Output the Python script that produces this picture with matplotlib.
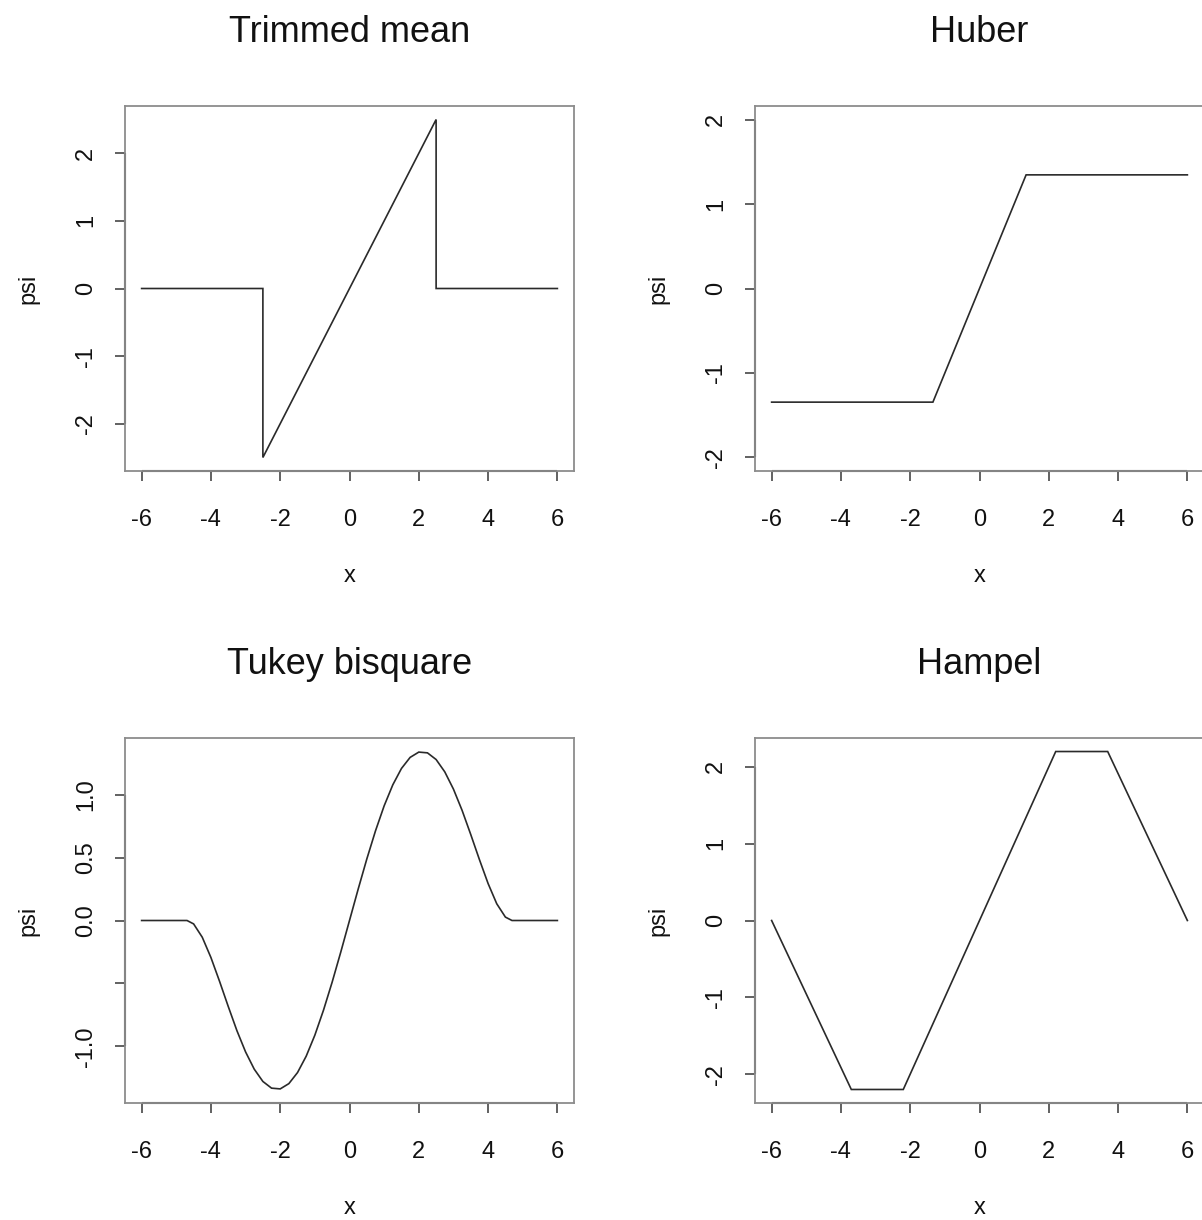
import matplotlib
matplotlib.use("Agg")
import matplotlib.pyplot as plt
import matplotlib.transforms as mtransforms

plt.rcParams['font.family'] = ['Liberation Sans', 'DejaVu Sans']

W, H = 1202, 1220

# psi curves, values read per panel
trim_x = [-6, -2.5, -2.5, 2.5, 2.5, 6]
trim_y = [0, 0, -2.5, 2.5, 0, 0]

huber_x = [-6, -1.345, 1.345, 6]
huber_y = [-1.345, -1.345, 1.345, 1.345]

tukey_x = [-6, -4.69, -4.5, -4.25, -4.0, -3.75, -3.5, -3.25, -3.0, -2.75, -2.5,
           -2.25, -2.0, -1.75, -1.5, -1.25, -1.0, -0.75, -0.5, -0.25, 0.0,
           0.25, 0.5, 0.75, 1.0, 1.25, 1.5, 1.75, 2.0, 2.25, 2.5, 2.75, 3.0,
           3.25, 3.5, 3.75, 4.0, 4.25, 4.5, 4.69, 6]
tukey_y = [0, 0, -0.027, -0.133, -0.294, -0.484, -0.683, -0.875, -1.044, -1.181, -1.279,
           -1.332, -1.338, -1.296, -1.208, -1.078, -0.911, -0.712, -0.489, -0.249, 0.0,
           0.249, 0.489, 0.712, 0.911, 1.078, 1.208, 1.296, 1.338, 1.332, 1.279, 1.181, 1.044,
           0.875, 0.683, 0.484, 0.294, 0.133, 0.027, 0, 0]

hampel_x = [-6, -3.7, -2.2, 2.2, 3.7, 6]
hampel_y = [0, -2.2, -2.2, 2.2, 2.2, 0]

x_ticks = [-6, -4, -2, 0, 2, 4, 6]
int_ticks = [-2, -1, 0, 1, 2]
tukey_ticks = [-1.0, -0.5, 0.0, 0.5, 1.0]
tukey_labels = ['-1.0', '', '0.0', '0.5', '1.0']

panels = [
    dict(title='Trimmed mean', x=trim_x, y=trim_y, ylim=2.7,
         yticks=int_ticks, ylabels=[str(t) for t in int_ticks], left=125, top=106),
    dict(title='Huber', x=huber_x, y=huber_y, ylim=2.16,
         yticks=int_ticks, ylabels=[str(t) for t in int_ticks], left=755, top=106),
    dict(title='Tukey bisquare', x=tukey_x, y=tukey_y, ylim=1.45,
         yticks=tukey_ticks, ylabels=tukey_labels, left=125, top=738),
    dict(title='Hampel', x=hampel_x, y=hampel_y, ylim=2.376,
         yticks=int_ticks, ylabels=[str(t) for t in int_ticks], left=755, top=738),
]

BOX_W, BOX_H = 449, 365
box_col = '#8c8c8c'
axis_col = '#3a3a3a'

fig = plt.figure(figsize=(W / 100, H / 100), dpi=100)

for p in panels:
    l, t = p['left'], p['top']
    ax = fig.add_axes([l / W, 1 - (t + BOX_H) / H, BOX_W / W, BOX_H / H])
    ax.plot(p['x'], p['y'], color='#2a2a2a', lw=1.2, solid_joinstyle='miter')
    ax.set_xlim(-6.48, 6.48)
    ax.set_ylim(-p['ylim'], p['ylim'])

    for s in ax.spines.values():
        s.set_color(box_col)
        s.set_linewidth(1.3)

    # R-style axis lines running only between the outer ticks
    bx = mtransforms.blended_transform_factory(ax.transData, ax.transAxes)
    ax.plot([x_ticks[0], x_ticks[-1]], [0, 0], color=axis_col, lw=1.5,
            transform=bx, clip_on=False, solid_capstyle='butt')
    by = mtransforms.blended_transform_factory(ax.transAxes, ax.transData)
    ax.plot([0, 0], [p['yticks'][0], p['yticks'][-1]], color=axis_col, lw=1.5,
            transform=by, clip_on=False, solid_capstyle='butt')

    ax.set_xticks(x_ticks)
    ax.set_xticklabels([str(v) for v in x_ticks])
    ax.set_yticks(p['yticks'])
    ax.set_yticklabels(p['ylabels'], rotation=90, va='center')
    ax.tick_params(axis='both', direction='out', length=7, width=1.3,
                   color='#555555', labelsize=17, labelcolor='#111111')
    ax.tick_params(axis='x', pad=20)
    ax.tick_params(axis='y', pad=13)

    cx = l + BOX_W / 2
    cy = t + BOX_H / 2
    fig.text(cx / W, 1 - (t - 74) / H, p['title'], ha='center', va='center',
             fontsize=26, color='#111111')
    fig.text(cx / W, 1 - (t + BOX_H + 105) / H, 'x', ha='center', va='center',
             fontsize=17, color='#111111')
    fig.text((l - 97) / W, 1 - cy / H, 'psi', ha='center', va='center',
             rotation=90, fontsize=17, color='#111111')

fig.savefig('out.png', dpi=100)
